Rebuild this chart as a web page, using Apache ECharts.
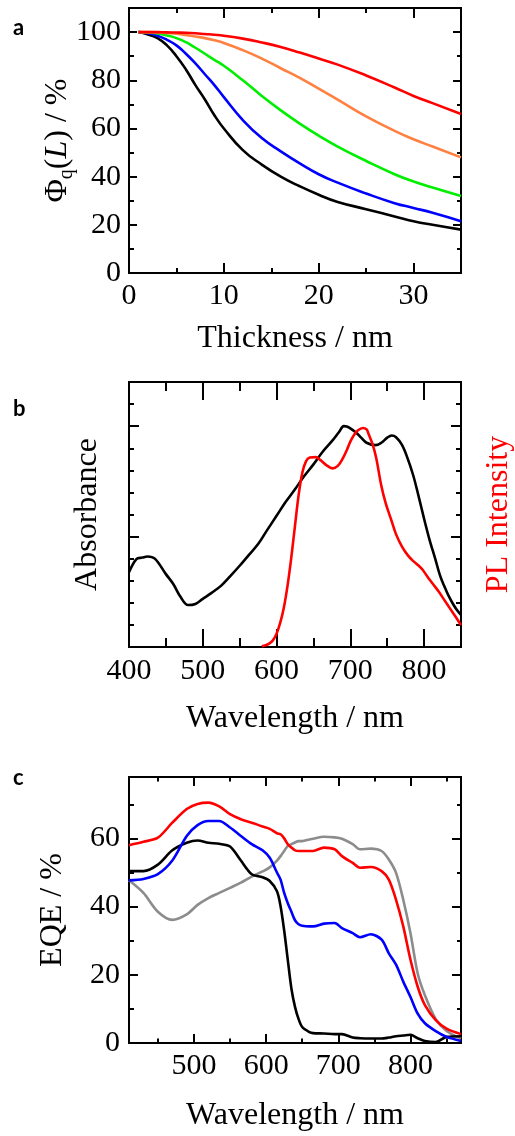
<!DOCTYPE html>
<html>
<head>
<meta charset="utf-8">
<script src="https://cdn.jsdelivr.net/npm/echarts@6/dist/echarts.min.js"></script>
<style>
html,body{margin:0;padding:0;background:#fff;}
#chart{width:515px;height:1136px;}
</style>
</head>
<body>
<div id="chart"></div>
<script>
// ---------- Panel a: quenching vs thickness ----------
const thicknessNm = [1,2,3,4,5,6,7,8,9,10,12,14,16,18,20,22,25,28,30,32,35];
const phiRed    = [100,100,100,99.9,99.8,99.7,99.5,99.2,98.9,98.5,97.3,95.7,93.8,91.5,89,86.5,82,77,73.5,70.5,66];
const phiOrange = [100,100,99.9,99.6,99.3,98.8,98.2,97.5,96.6,95.5,92.5,89,85,81,76.5,72,65,59,55.5,52.5,48];
const phiGreen  = [100,99.8,99.4,98.6,97.5,95.8,93.5,91,88.5,86,80,73.5,67.5,62,57,52.5,46.5,41,38,35.5,32];
const phiBlue   = [100,99.5,98.5,96.8,94.5,91,87,82.5,78,73,63.5,56,50.5,45.5,41,37.5,33,29,27,25,21.5];
const phiBlack  = [100,99,97.5,94.5,90,84.5,78,72,65.5,60,51,45,40,36,32.5,29.5,26.5,23.5,21.5,20,18];
const aXTicks = [0,10,20,30];
const aYTicks = [0,20,40,60,80,100];

// ---------- Panel b: absorbance and PL ----------
const absWl  = [400,410,418,425,435,450,460,470,480,490,500,512,525,537,550,562,575,587,600,612,625,637,650,662,675,685,691,695,700,708,715,722,734,742,750,756,762,770,777,785,792,800,807,815,822,830,835,840,845,850];
const absVal = [0.338,0.398,0.405,0.41,0.4,0.33,0.285,0.226,0.19,0.195,0.218,0.245,0.278,0.32,0.368,0.415,0.466,0.528,0.594,0.655,0.714,0.772,0.827,0.882,0.932,0.975,1.0,0.998,0.99,0.97,0.947,0.925,0.914,0.925,0.948,0.958,0.95,0.915,0.86,0.78,0.69,0.58,0.49,0.4,0.32,0.255,0.22,0.19,0.165,0.145];
const plWl   = [580,585,590,595,600,605,610,615,620,625,630,635,640,645,653,660,667,676,683,690,695,700,705,710,717,722,725,730,735,742,748,755,762,770,778,785,792,798,805,812,820,828,835,842,850];
const plVal  = [0.003,0.008,0.015,0.03,0.06,0.11,0.18,0.28,0.406,0.55,0.69,0.79,0.842,0.858,0.86,0.845,0.825,0.809,0.82,0.855,0.89,0.93,0.96,0.98,0.992,0.985,0.962,0.92,0.857,0.73,0.65,0.58,0.51,0.455,0.415,0.39,0.37,0.35,0.316,0.285,0.25,0.21,0.175,0.14,0.1];
const bXTicks = [400,500,600,700,800];

// ---------- Panel c: EQE ----------
const eqeWl    = [410,430,450,470,490,505,520,535,550,565,580,595,605,615,620,625,630,635,640,645,650,660,665,680,695,705,720,730,745,760,770,780,790,800,810,820,835,850,870];
const eqeRed   = [58,59,60.2,64.6,68.6,70.1,70.5,69.4,67.1,65.6,64.6,63.5,62.8,61.5,61.2,60,58.3,57.3,56.5,56.3,56.3,56.3,56.3,57.3,56.8,54.8,52.8,51.4,51.6,50.4,47.9,42,34.2,24.4,16.5,11.1,6.7,4.2,2.6];
const eqeBlue  = [47.7,48.1,49.5,53.5,60.7,63.9,65.1,65.1,63.2,60.7,58.3,56.5,54.3,50,47.9,44,41,38.5,36,34.8,34.4,34.2,34.2,35,35.2,33.7,32.2,31,31.9,30.3,26.3,23,18,13.5,8.6,5.8,3.5,1.8,0.6];
const eqeBlack = [50.4,50.4,52.3,56.5,58.7,59.4,58.7,58.4,57.6,53.5,49.5,48.6,47.5,44.5,40.1,33,24.4,16,10.6,7,4.7,3.2,2.9,2.8,2.6,2.6,1.6,1.4,1.3,1.3,1.6,2,2.2,2.4,1.4,0.6,0.3,1.8,2];
const eqeGray  = [47.7,44,38.5,36.1,37.7,40.5,42.5,44,45.5,47,48.8,50.3,51.5,53.5,54.8,56.3,57.8,58.3,58.8,59.2,59.2,59.7,59.9,60.5,60.3,59.9,58.3,56.8,57,56.3,53.8,49.9,42,32.2,20.4,14,7,3.5,1.3];
const cXTicks = [500,600,700,800];
const cYTicks = [0,20,40,60];

// ---------- building ----------
const SERIF = 'Liberation Serif';
const grids = [
  {left:129, right:54, top:8, height:265},
  {left:129, right:54, top:382, height:265},
  {left:129, right:54, top:777, height:266}
];
const xAxes = [], yAxes = [];

function tickAxis(kind, g, pos, min, max, values, len, extra) {
  const ax = Object.assign({
    type:'value', gridIndex:g, position:pos, min:min, max:max,
    nameMoveOverlap:false,
    axisLine:{show:false, onZero:false},
    splitLine:{show:false},
    axisTick:{show: values.length>0, inside:true, length:len, customValues:values, lineStyle:{color:'#000', width:2}},
    axisLabel:{show:false}
  }, extra || {});
  (kind === 'x' ? xAxes : yAxes).push(ax);
  return (kind === 'x' ? xAxes : yAxes).length - 1;
}
function labelStyle(values, margin) {
  return {show:true, customValues:values, margin:margin, fontFamily:SERIF, fontSize:30, color:'#000'};
}
function nameStyle(color) {
  return {fontFamily:SERIF, fontSize:32, color:color || '#000'};
}

// panel a axes
const aX = tickAxis('x',0,'bottom',0,35,aXTicks,10,{
  axisLabel:labelStyle(aXTicks,8), name:'Thickness / nm', nameLocation:'middle', nameGap:50, nameTextStyle:nameStyle()});
tickAxis('x',0,'bottom',0,35,[5,15,25],5);
tickAxis('x',0,'top',0,35,aXTicks,10);
tickAxis('x',0,'top',0,35,[5,15,25],5);
const aY = tickAxis('y',0,'left',0,110,aYTicks,8,{
  axisLabel:labelStyle(aYTicks,8),
  name:'{n|Φ}{s|q}{n|(}{i|L}{n|) / %}', nameLocation:'middle', nameGap:53,
  nameTextStyle:{fontFamily:SERIF, fontSize:32, color:'#000', rich:{
    n:{fontFamily:SERIF, fontSize:32, lineHeight:36, color:'#000'},
    i:{fontFamily:SERIF, fontSize:32, lineHeight:36, fontStyle:'italic', color:'#000'},
    s:{fontFamily:SERIF, fontSize:20, lineHeight:20, padding:[17,0,0,0], color:'#000'}
  }}});
tickAxis('y',0,'left',0,110,[10,30,50,70,90],5);
tickAxis('y',0,'right',0,110,aYTicks,8);
tickAxis('y',0,'right',0,110,[10,30,50,70,90],4);

// panel b axes
const bX = tickAxis('x',1,'bottom',400,850,bXTicks,18,{
  axisLabel:labelStyle(bXTicks,9), name:'Wavelength / nm', nameLocation:'middle', nameGap:56, nameTextStyle:nameStyle()});
tickAxis('x',1,'bottom',400,850,[450,550,650,750],9);
tickAxis('x',1,'top',400,850,bXTicks,18);
tickAxis('x',1,'top',400,850,[450,550,650,750],9);
const bYmaj = [0,0.5,1.0], bYmin = [0.1,0.2,0.3,0.4,0.6,0.7,0.8,0.9,1.1];
const bY = tickAxis('y',1,'left',0,1.2,bYmaj,10,{
  name:'Absorbance', nameLocation:'middle', nameGap:25, nameTextStyle:nameStyle()});
tickAxis('y',1,'left',0,1.2,bYmin,5);
tickAxis('y',1,'right',0,1.2,bYmaj,10,{
  name:'PL Intensity', nameLocation:'middle', nameGap:22, nameTextStyle:nameStyle('#ff0000')});
tickAxis('y',1,'right',0,1.2,bYmin,5);

// panel c axes
const cX = tickAxis('x',2,'bottom',410,870,cXTicks,9,{
  axisLabel:labelStyle(cXTicks,8), name:'Wavelength / nm', nameLocation:'middle', nameGap:57, nameTextStyle:nameStyle()});
tickAxis('x',2,'bottom',410,870,[450,550,650,750,850],4.5);
tickAxis('x',2,'top',410,870,cXTicks,9);
tickAxis('x',2,'top',410,870,[450,550,650,750,850],4.5);
const cY = tickAxis('y',2,'left',0,78,cYTicks,9,{
  axisLabel:labelStyle(cYTicks,9), name:'EQE / %', nameLocation:'middle', nameGap:60, nameTextStyle:nameStyle()});
tickAxis('y',2,'left',0,78,[10,30,50,70],5);
tickAxis('y',2,'right',0,78,cYTicks,9);
tickAxis('y',2,'right',0,78,[10,30,50,70],4);

function pairs(xs, ys){ return xs.map((x,i)=>[x, ys[i]]); }
function line(xi, yi, xs, ys, color, smooth){
  return {type:'line', xAxisIndex:xi, yAxisIndex:yi, data:pairs(xs,ys), showSymbol:false, symbol:'none',
    smooth:smooth, lineStyle:{color:color, width:2.6}, itemStyle:{color:color}, silent:true};
}

const series = [
  line(aX,aY,thicknessNm,phiBlack,'#000000',0.5),
  line(aX,aY,thicknessNm,phiBlue,'#0000ff',0.5),
  line(aX,aY,thicknessNm,phiGreen,'#00ee00',0.5),
  line(aX,aY,thicknessNm,phiOrange,'#ff8040',0.5),
  line(aX,aY,thicknessNm,phiRed,'#ff0000',0.5),
  line(bX,bY,absWl,absVal,'#000000',0.35),
  line(bX,bY,plWl,plVal,'#ff0000',0.35),
  line(cX,cY,eqeWl,eqeGray,'#8c8c8c',0.3),
  line(cX,cY,eqeWl,eqeBlack,'#000000',0.3),
  line(cX,cY,eqeWl,eqeBlue,'#0000ff',0.3),
  line(cX,cY,eqeWl,eqeRed,'#ff0000',0.3)
];

const chart = echarts.init(document.getElementById('chart'), null, {renderer:'canvas'});
chart.setOption({
  animation:false,
  backgroundColor:'#ffffff',
  grid: grids.map(g => Object.assign({show:true, borderColor:'#000', borderWidth:2, backgroundColor:'transparent', containLabel:false, outerBoundsMode:'none'}, g)),
  xAxis: xAxes,
  yAxis: yAxes,
  series: series,
  graphic: [
    {type:'text', left:13, top:17, style:{text:'a', font:'bold 22px Lato', fill:'#000'}},
    {type:'text', left:13, top:398, style:{text:'b', font:'bold 22px Lato', fill:'#000'}},
    {type:'text', left:13, top:767, style:{text:'c', font:'bold 22px Lato', fill:'#000'}}
  ]
});
</script>
</body>
</html>
